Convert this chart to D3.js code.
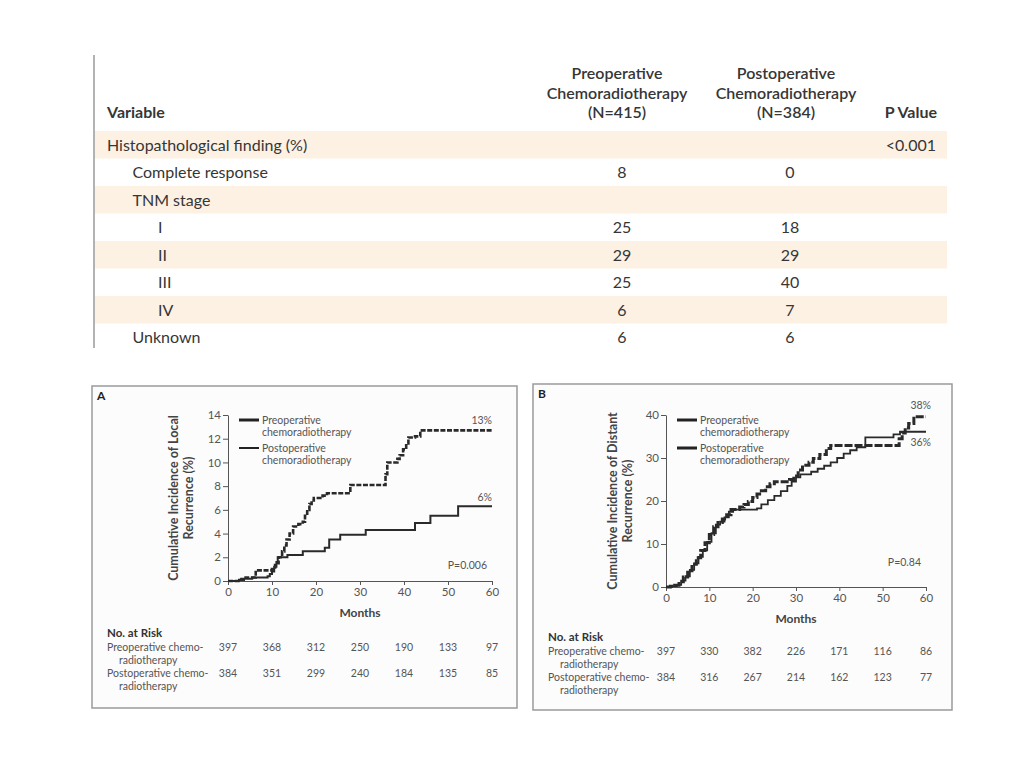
<!DOCTYPE html>
<html>
<head>
<meta charset="utf-8">
<script src="https://cdn.jsdelivr.net/npm/d3@7"></script>
<style>
  body { margin: 0; background: #fff; }
  svg { display: block; font-family: Lato, "Open Sans", sans-serif; }
</style>
</head>
<body>
<svg id="chart" width="1024" height="768"></svg>
<script>
// ---- table data ----
var rowLabels = ["Histopathological finding (%)", "Complete response", "TNM stage", "I", "II", "III", "IV", "Unknown"];
var rowIndent = [0, 1, 1, 2, 2, 2, 2, 1];
var preopPct = ["", "8", "", "25", "29", "25", "6", "6"];
var postopPct = ["", "0", "", "18", "29", "40", "7", "6"];
var pValues = ["<0.001", "", "", "", "", "", "", ""];

// ---- curve data: [month, cumulative %] ----
var monthTicks = [0, 10, 20, 30, 40, 50, 60];
var localPre = [[0,0],[2.5,0.1],[3,0.2],[5.5,0.3],[9,0.4],[9.5,0.6],[10,0.8],[10.5,1.2],[11,1.6],[11.3,2.0],[13,2.0],[13.5,2.2],[17,2.5],[22,2.8],[23,3.5],[25.5,3.9],[31.3,4.3],[42.5,4.9],[46,5.5],[52.3,6.3],[60,6.3]];
var localPost = [[0,0],[3,0.1],[4,0.3],[6.3,0.9],[9,0.9],[10,1.0],[10.7,1.5],[11.5,2.0],[12.3,2.5],[12.8,3.0],[13.3,3.5],[14,4.0],[14.8,4.6],[16,4.8],[17,5.0],[17.5,5.5],[18,6.0],[18.5,6.5],[19,6.8],[19.5,7.0],[21.5,7.2],[22.5,7.4],[27.8,8.1],[35.8,9.0],[36.2,10.0],[38.5,10.3],[39,10.6],[39.8,11.1],[40.5,11.6],[41,12.1],[42.5,12.2],[43.7,12.7],[60,12.7]];
var distPre = [[0,0],[1,0.2],[2.5,0.5],[3.5,1.5],[4.5,2.5],[5.5,4],[6.5,5.5],[7.5,7],[8.5,8.5],[9.5,10.5],[10.5,12.5],[11.5,14.5],[12.5,15.2],[13.5,16.2],[14.5,17.5],[15.5,18],[21,18.3],[22,19.2],[23.5,20.2],[25,21.2],[26.5,22.3],[28,23.5],[29,24.5],[30,25.5],[31,26.2],[33.5,26.8],[35,27.5],[36.5,28.2],[38,29],[39.5,30],[41,31],[42.5,31.8],[44,32.5],[46,34.8],[52.5,35.5],[54,36.1],[60,36.1]];
var distPost = [[0,0],[1,0.2],[2,0.4],[3,1.2],[4,2.3],[5,3.8],[6,5.3],[7,6.8],[8,8.5],[9,10.3],[10,12.2],[11,14],[12,15],[13,15.8],[14,16.8],[15,18],[17,18.6],[18,19.2],[19,19.9],[20,20.8],[21,21.6],[22,22.4],[23,23.3],[24,24],[25,24.5],[28.5,25],[29.5,25.8],[30.5,27.2],[31.5,28.3],[33,29],[34,29.9],[35.5,30.8],[37,32.2],[38,32.9],[53.2,32.9],[53.8,34.5],[54.5,35.8],[55.2,37],[56,38],[57.2,39.6],[60,39.6]];

// ---- numbers at risk ----
var riskLocalPre = [397, 368, 312, 250, 190, 133, 97];
var riskLocalPost = [384, 351, 299, 240, 184, 135, 85];
var riskDistPre = [397, 330, 382, 226, 171, 116, 86];
var riskDistPost = [384, 316, 267, 214, 162, 123, 77];

var svg = d3.select("#chart");
var textCol = "#363636";

// ================= TABLE =================
var table = svg.append("g");
var rowH = 27.5, rowTop = 131;

table.selectAll("rect.band")
    .data(rowLabels)
    .enter()
    .filter((d, i) => i % 2 === 0)
    .append("rect")
    .attr("x", 95)
    .attr("y", (d, i) => rowTop + i * 2 * rowH)
    .attr("width", 852)
    .attr("height", rowH)
    .attr("fill", "#fdf1e4");

table.append("line")
    .attr("x1", 94).attr("x2", 94)
    .attr("y1", 55).attr("y2", 348)
    .attr("stroke", "#666").attr("stroke-width", 1);

// header
var head = table.append("g").attr("fill", textCol).attr("font-size", 16);
head.append("text").attr("x", 107).attr("y", 118).attr("font-weight", 700).text("Variable");
head.append("text").attr("x", 937).attr("y", 118).attr("text-anchor", "end").attr("font-weight", 700).text("P Value");
[["Preoperative", "Chemoradiotherapy", "(N=415)", 617], ["Postoperative", "Chemoradiotherapy", "(N=384)", 786]].forEach(h => {
    h.slice(0, 3).forEach((t, k) => {
        head.append("text")
            .attr("x", h[3]).attr("y", 79 + k * 19.5)
            .attr("text-anchor", "middle")
            .attr("font-weight", 600)
            .text(t);
    });
});

// body rows
var body = table.append("g").attr("fill", textCol).attr("font-size", 16);
rowLabels.forEach((lab, i) => {
    var yb = rowTop + i * rowH + 19.5;
    body.append("text").attr("x", 107 + rowIndent[i] * 25.5).attr("y", yb).text(lab);
    body.append("text").attr("x", 622).attr("y", yb).attr("text-anchor", "middle").text(preopPct[i]);
    body.append("text").attr("x", 790).attr("y", yb).attr("text-anchor", "middle").text(postopPct[i]);
    body.append("text").attr("x", 936).attr("y", yb).attr("text-anchor", "end").text(pValues[i]);
});

// ================= PANELS =================
function panel(opt) {
    var g = svg.append("g");
    g.append("rect")
        .attr("x", opt.box[0]).attr("y", opt.box[1])
        .attr("width", opt.box[2]).attr("height", opt.box[3])
        .attr("fill", "#fcfcfc").attr("stroke", "#9a9a9a").attr("stroke-width", 1.5);
    g.append("text")
        .attr("x", opt.box[0] + 5).attr("y", opt.box[1] + 14)
        .attr("font-size", 12).attr("font-weight", 700).attr("fill", "#222")
        .text(opt.letter);

    var x = d3.scaleLinear().domain([0, 60]).range(opt.xr);
    var y = d3.scaleLinear().domain([0, opt.ymax]).range(opt.yr);

    var yAxis = d3.axisLeft(y).tickValues(opt.yticks).tickSize(5).tickSizeOuter(0).tickPadding(2);
    var xAxis = d3.axisBottom(x).tickValues(monthTicks).tickSize(4).tickSizeOuter(0).tickPadding(3);

    var ya = g.append("g").attr("transform", `translate(${opt.xr[0]},0)`).call(yAxis);
    var xa = g.append("g").attr("transform", `translate(0,${opt.yr[0]})`).call(xAxis);
    [ya, xa].forEach(a => {
        a.selectAll("path, line").attr("stroke", "#555").attr("stroke-width", 1);
        a.selectAll("text").attr("fill", "#555").attr("font-size", 11.5).attr("font-family", "Lato, sans-serif");
    });

    // y label
    var ymid = (opt.yr[0] + opt.yr[1]) / 2;
    opt.ylab.forEach((t, k) => {
        g.append("text")
            .attr("transform", `translate(${opt.ylabX + k * 15},${ymid}) rotate(-90)`)
            .attr("text-anchor", "middle")
            .attr("dominant-baseline", "central")
            .attr("font-size", 12.5).attr("font-weight", 700).attr("fill", "#444")
            .text(t);
    });
    g.append("text")
        .attr("x", (opt.xr[0] + opt.xr[1]) / 2).attr("y", opt.yr[0] + 36)
        .attr("text-anchor", "middle")
        .attr("font-size", 12).attr("font-weight", 700).attr("fill", "#444")
        .text("Months");

    // curves
    var line = d3.line()
        .x(d => x(d[0]))
        .y(d => y(d[1]))
        .curve(d3.curveStepAfter);
    g.append("path").datum(opt.pre)
        .attr("d", line).attr("fill", "none")
        .attr("stroke", "#2a2a2a").attr("stroke-width", opt.preW);
    g.append("path").datum(opt.post)
        .attr("d", line).attr("fill", "none")
        .attr("stroke", "#2a2a2a").attr("stroke-width", opt.postW)
        .attr("stroke-dasharray", opt.dash);

    // legend
    var lx = opt.xr[0] + 11;
    var ly = opt.yr[1] + 5;
    [["Preoperative", "chemoradiotherapy", opt.legW[0]], ["Postoperative", "chemoradiotherapy", opt.legW[1]]].forEach((l, k) => {
        var yy = ly + k * 28;
        g.append("line")
            .attr("x1", lx).attr("x2", lx + 20)
            .attr("y1", yy).attr("y2", yy)
            .attr("stroke", "#222").attr("stroke-width", l[2]);
        g.append("text").attr("x", lx + 23).attr("y", yy + 4)
            .attr("font-size", 10.5).attr("fill", "#555").text(l[0]);
        g.append("text").attr("x", lx + 23).attr("y", yy + 16)
            .attr("font-size", 10.5).attr("fill", "#555").text(l[1]);
    });

    // end labels and P value
    opt.ends.forEach(e => {
        g.append("text")
            .attr("x", opt.xr[1] + e[2]).attr("y", e[1])
            .attr("text-anchor", "end")
            .attr("font-size", 10.5).attr("fill", "#555")
            .text(e[0]);
    });
    g.append("text")
        .attr("x", opt.pPos[0]).attr("y", opt.pPos[1])
        .attr("text-anchor", "end")
        .attr("font-size", 10.5).attr("fill", "#555")
        .text(opt.p);

    // numbers at risk
    var rx = opt.box[0] + 15;
    var rt = opt.riskTop;
    g.append("text").attr("x", rx).attr("y", rt)
        .attr("font-size", 11.5).attr("font-weight", 700).attr("fill", "#333").text("No. at Risk");
    [["Preoperative chemo-", opt.riskPre], ["Postoperative chemo-", opt.riskPost]].forEach((r, k) => {
        var yy = rt + 14 + k * 26;
        g.append("text").attr("x", rx).attr("y", yy)
            .attr("font-size", 10.5).attr("fill", "#555").text(r[0]);
        g.append("text").attr("x", rx + 12).attr("y", yy + 12.5)
            .attr("font-size", 10.5).attr("fill", "#555").text("radiotherapy");
        g.selectAll(null)
            .data(r[1])
            .enter()
            .append("text")
            .attr("x", (d, i) => x(monthTicks[i]))
            .attr("y", yy)
            .attr("text-anchor", "middle")
            .attr("font-size", 10.5).attr("fill", "#555")
            .text(d => d);
    });
}

panel({
    letter: "A",
    box: [92, 386, 425, 322],
    xr: [228, 492], yr: [581, 415],
    ymax: 14, yticks: [0, 2, 4, 6, 8, 10, 12, 14],
    ylab: ["Cumulative Incidence of Local", "Recurrence (%)"], ylabX: 173,
    pre: localPre, post: localPost,
    preW: 2, postW: 2.6, dash: "5,1.6",
    legW: [3, 2],
    ends: [["13%", 424, 0], ["6%", 501, 0]],
    p: "P=0.006", pPos: [487, 569],
    riskTop: 637,
    riskPre: riskLocalPre, riskPost: riskLocalPost
});

panel({
    letter: "B",
    box: [533, 384, 419, 326],
    xr: [666, 926], yr: [587, 415],
    ymax: 40, yticks: [0, 10, 20, 30, 40],
    ylab: ["Cumulative Incidence of Distant", "Recurrence (%)"], ylabX: 612,
    pre: distPre, post: distPost,
    preW: 1.8, postW: 3, dash: "8,2",
    legW: [3, 3],
    ends: [["38%", 409, 5], ["36%", 446, 5]],
    p: "P=0.84", pPos: [921, 566],
    riskTop: 641,
    riskPre: riskDistPre, riskPost: riskDistPost
});
</script>
</body>
</html>
